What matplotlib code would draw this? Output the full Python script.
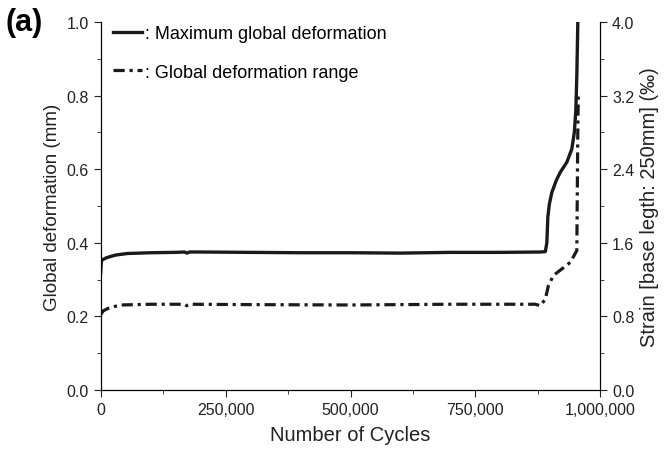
import numpy as np
import matplotlib.pyplot as plt
from matplotlib.ticker import FuncFormatter, MultipleLocator

plt.rcParams['font.family'] = ['Liberation Sans', 'DejaVu Sans']

# maximum global deformation (mm) vs cycles
max_cycles = [0, 1300, 5000, 11000, 20000, 31000, 54000, 100000, 148000, 168000, 172000,
              178000, 200000, 300000, 400000, 500000, 600000, 700000, 800000, 880000,
              890000, 893000, 895000, 898000, 903000, 912000, 920000, 933000, 943000,
              948000, 951000, 953000, 955000]
max_def = [0.32, 0.351, 0.355, 0.359, 0.363, 0.367, 0.371, 0.373, 0.374, 0.375, 0.372,
           0.375, 0.375, 0.374, 0.373, 0.373, 0.372, 0.374, 0.374, 0.375,
           0.376, 0.40, 0.47, 0.505, 0.537, 0.57, 0.592, 0.619, 0.655,
           0.70, 0.76, 0.854, 1.0]

# global deformation range (mm) vs cycles
rng_cycles = [0, 5000, 15000, 28000, 40000, 100000, 168000, 172000, 178000, 300000,
              500000, 700000, 870000, 880000, 890000, 896000, 906000, 923000, 940000,
              953000, 955000, 956000]
rng_def = [0.205, 0.215, 0.222, 0.227, 0.231, 0.233, 0.233, 0.229, 0.233, 0.232,
           0.231, 0.233, 0.233, 0.229, 0.247, 0.283, 0.311, 0.329, 0.347,
           0.379, 0.709, 0.80]

x_ticks = [0, 250000, 500000, 750000, 1000000]

fig = plt.figure(figsize=(6.67, 4.52), dpi=100)
ax = fig.add_axes([0.151, 0.135, 0.749, 0.814])

ax.plot(max_cycles, max_def, color='#1a1a1a', lw=2.4, label=': Maximum global deformation')
ax.plot(rng_cycles, rng_def, color='#1a1a1a', lw=2.3, dashes=(3.5, 1.5, 1, 1.5),
        label=': Global deformation range')

ax.set_xlim(0, 1000000)
ax.set_ylim(0, 1.0)
ax.set_xticks(x_ticks)
ax.xaxis.set_minor_locator(MultipleLocator(125000))
ax.xaxis.set_major_formatter(FuncFormatter(lambda v, p: f'{int(v):,}'))
ax.yaxis.set_major_locator(MultipleLocator(0.2))
ax.yaxis.set_minor_locator(MultipleLocator(0.1))
ax.yaxis.set_major_formatter(FuncFormatter(lambda v, p: f'{v:.1f}'))
ax.spines['top'].set_visible(False)
ax.tick_params(which='both', direction='out', labelsize=11.5, colors='#222222')
ax.tick_params(which='major', length=5)
ax.tick_params(which='minor', length=3)
ax.set_xlabel('Number of Cycles', fontsize=14.5, color='#222222', labelpad=6)
ax.set_ylabel('Global deformation (mm)', fontsize=13.5, color='#222222')

ax2 = ax.twinx()
ax2.set_ylim(0, 4.0)
ax2.yaxis.set_major_locator(MultipleLocator(0.8))
ax2.yaxis.set_minor_locator(MultipleLocator(0.4))
ax2.yaxis.set_major_formatter(FuncFormatter(lambda v, p: f'{v:.1f}'))
ax2.spines['top'].set_visible(False)
ax2.tick_params(which='both', direction='out', labelsize=11.5, colors='#222222')
ax2.tick_params(which='major', length=5)
ax2.tick_params(which='minor', length=3)
ax2.set_ylabel('Strain [base legth: 250mm] (‰)', fontsize=14.5, color='#222222')

ax.legend(loc='upper left', frameon=False, fontsize=13, handlelength=1.6,
          handletextpad=0.15, labelspacing=1.2, borderaxespad=0.0,
          bbox_to_anchor=(0.01, 1.012))

fig.text(0.008, 0.95, '(a)', fontsize=22, fontweight='bold', va='center')

fig.savefig('out.png', dpi=100)
